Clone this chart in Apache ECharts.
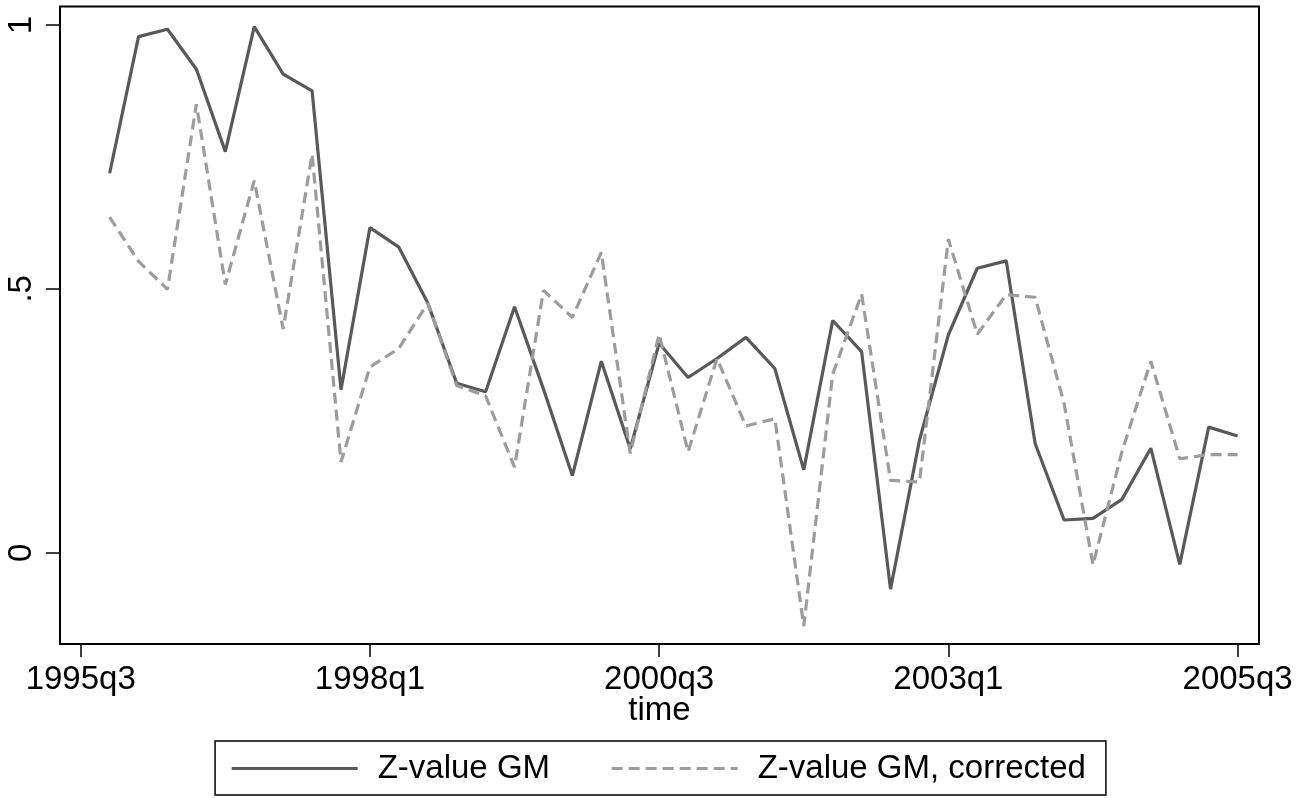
<!DOCTYPE html>
<html>
<head>
<meta charset="utf-8">
<script src="https://cdn.jsdelivr.net/npm/echarts@6/dist/echarts.min.js"></script>
<style>
html,body{margin:0;padding:0;background:#fff;}
#c{width:1316px;height:798px;}
</style>
</head>
<body>
<div id="c"></div>
<script>
// Quarters (x positions counted in quarters from 1995q3)
const quarters = ['1995q4','1996q1','1996q2','1996q3','1996q4','1997q1','1997q2','1997q3','1997q4','1998q1',
  '1998q2','1998q3','1998q4','1999q1','1999q2','1999q3','1999q4','2000q1','2000q2','2000q3',
  '2000q4','2001q1','2001q2','2001q3','2001q4','2002q1','2002q2','2002q3','2002q4','2003q1',
  '2003q2','2003q3','2003q4','2004q1','2004q2','2004q3','2004q4','2005q1','2005q2','2005q3'];
const quarterPos = [1,2,3,4,5,6,7,8,9,10,11,12,13,14,15,16,17,18,19,20,
  21,22,23,24,25,26,27,28,29,30,31,32,33,34,35,36,37,38,39,40];

const zGM = [0.719,0.978,0.992,0.916,0.760,0.997,0.907,0.875,0.309,0.616,
  0.579,0.473,0.321,0.305,0.466,0.310,0.146,0.363,0.197,0.397,
  0.332,0.368,0.408,0.349,0.157,0.440,0.381,-0.069,0.213,0.413,
  0.539,0.553,0.207,0.062,0.065,0.101,0.198,-0.022,0.238,0.221];
const zGMcorr = [0.636,0.552,0.499,0.850,0.508,0.705,0.424,0.755,0.172,0.352,
  0.387,0.473,0.317,0.297,0.162,0.497,0.446,0.569,0.188,0.414,
  0.191,0.368,0.240,0.254,-0.139,0.338,0.490,0.137,0.134,0.594,
  0.414,0.489,0.484,0.283,-0.023,0.191,0.363,0.178,0.186,0.186];

const xTickPos = [0,10,20,30,40];
const xTickLabels = ['1995q3','1998q1','2000q3','2003q1','2005q3'];
const yTickVals = [0,0.5,1];
const yTickLabels = ['0','.5','1'];

const font = 'Liberation Sans, Arial, sans-serif';
const fs = 33;

const chart = echarts.init(document.getElementById('c'), null, {renderer:'canvas'});
chart.setOption({
  animation:false,
  backgroundColor:'#fff',
  grid:{left:60, top:6.5, right:57, bottom:154, show:true, borderColor:'#000', borderWidth:2, backgroundColor:'transparent'},
  xAxis:{
    type:'value', min:-0.716, max:40.74,
    name:'time', nameLocation:'middle', nameGap:50, nameMoveOverlap:false,
    nameTextStyle:{fontFamily:font, fontSize:fs, color:'#000'},
    axisLine:{show:false, onZero:false},
    splitLine:{show:false},
    axisTick:{show:true, customValues:xTickPos, length:13, lineStyle:{color:'#000', width:1.5}},
    axisLabel:{customValues:xTickPos, margin:19, fontFamily:font, fontSize:fs, color:'#000',
      formatter:function(v){ const i = xTickPos.indexOf(Math.round(v)); return i>=0 ? xTickLabels[i] : ''; }}
  },
  yAxis:{
    type:'value', min:-0.173, max:1.035,
    axisLine:{show:false, onZero:false},
    splitLine:{show:false},
    axisTick:{show:true, customValues:yTickVals, length:14, lineStyle:{color:'#000', width:1.5}},
    axisLabel:{customValues:yTickVals, rotate:90, margin:22, fontFamily:font, fontSize:fs, color:'#000',
      formatter:function(v){ const i = yTickVals.findIndex(t=>Math.abs(t-v)<1e-6); return i>=0 ? yTickLabels[i] : ''; }}
  },
  legend:{
    top:741, left:'center',
    borderColor:'#000', borderWidth:1.5,
    padding:[11,20,10,15],
    itemWidth:126, itemHeight:14, itemGap:60,
    itemStyle:{opacity:0},
    lineStyle:{width:3.2},
    textStyle:{fontFamily:font, fontSize:fs, color:'#000', padding:[0,0,0,15]},
    data:['Z-value GM','Z-value GM, corrected']
  },
  series:[
    {name:'Z-value GM', type:'line', symbol:'none', lineStyle:{color:'#595959', width:3.2}, itemStyle:{color:'#595959'},
      data: quarterPos.map((p,i)=>[p, zGM[i]])},
    {name:'Z-value GM, corrected', type:'line', symbol:'none', lineStyle:{color:'#9c9c9c', width:3.2, type:[11,6]}, itemStyle:{color:'#9c9c9c'},
      data: quarterPos.map((p,i)=>[p, zGMcorr[i]])}
  ]
});
</script>
</body>
</html>
